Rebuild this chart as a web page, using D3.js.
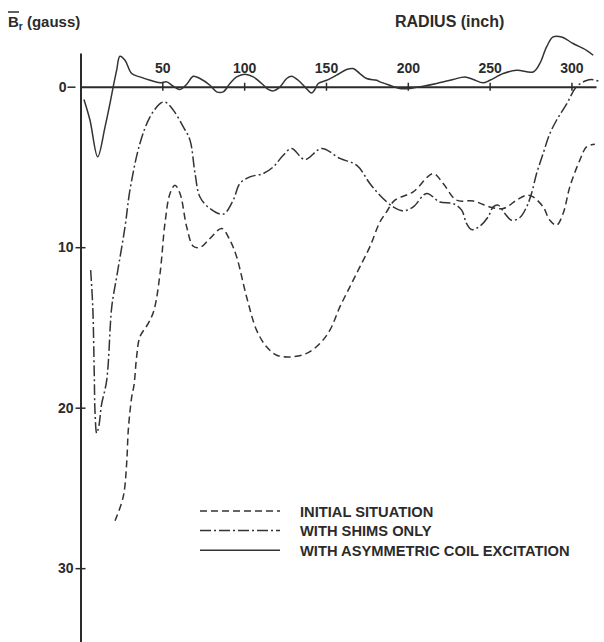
<!doctype html>
<html lang="en">
<head>
<meta charset="UTF-8">
<title>Radial field vs radius</title>
<style>
    body { margin: 0; background: #fff; }
    svg text { font-family: "Liberation Sans", Arial, sans-serif; font-weight: bold; fill: #2b2b2b; }
</style>
</head>
<body>
<svg id="chart" width="604" height="642"></svg>
<script src="https://d3js.org/d3.v7.min.js"></script>
<script>
    // radius (inch) and Br (gauss, positive = downward on the plot)
    let initialR = [21.1, 26.1, 28.2, 29.2, 31.3, 32.7, 34.3, 36.3, 41.4, 44.9, 48.6, 51.6, 54.7, 57.7, 60.8,
        64.9, 68.9, 73, 79.1, 86.3, 91.3, 95.4, 101.5, 107.6, 113.7, 119.9, 128, 138.2, 146.3, 152.4, 158.5,
        164.6, 170.7, 176.8, 182.9, 187, 192.1, 203.3, 215.5, 221.6, 229.8, 240, 250.1, 258.3, 266.5, 272.6,
        276.6, 282.7, 286.8, 290.9, 294.9, 299, 305.1, 309.2, 314.3];
    let initialB = [27.05, 25.56, 23.48, 21.4, 19.33, 18.6, 16.83, 15.59, 14.75, 13.93, 11.64, 8.52, 6.65, 6.14, 6.65,
        8.74, 9.94, 10.02, 9.46, 8.83, 9.56, 10.6, 13.1, 15.17, 16.21, 16.73, 16.84, 16.62, 16, 15.17, 13.72,
        12.47, 11.23, 9.98, 8.44, 7.8, 7.07, 6.55, 5.41, 6.03, 7.07, 7.12, 7.49, 7.59, 7.07, 6.76,
        6.87, 7.49, 8.32, 8.63, 7.9, 6.24, 4.58, 3.75, 3.58];

    let shimsR = [6.2, 7.5, 8.4, 8.9, 9.9, 11.3, 12.8, 16, 19.1, 22.1, 27.2, 30.2, 36.3, 42.5, 48.6, 51.6, 56.7,
        62.8, 66.9, 70, 73, 79.1, 87.2, 93.3, 97.4, 103.5, 111.7, 117.8, 123.9, 129, 137.1, 147.3, 158.5,
        168.7, 176.8, 182.9, 191.1, 197.2, 203.3, 211.5, 219.5, 227.7, 232.9, 235.9, 239, 244, 249.1, 252.2,
        255.2, 259.3, 263.4, 268.5, 272.6, 275.6, 278.7, 282.7, 286.8, 290.9, 297, 303.1, 308.8, 313.1, 317.4];
    let shimsB = [11.43, 13.72, 17.87, 20.34, 21.59, 21.1, 19.84, 18.3, 13.72, 11.85, 8.74, 6.45, 3.54, 1.88, 1.05, 0.95, 1.46,
        2.5, 3.33, 5.41, 6.87, 7.59, 7.94, 7.07, 6.03, 5.62, 5.41, 5, 4.27, 3.85, 4.54, 3.85, 4.47,
        4.89, 6.03, 6.76, 7.49, 7.74, 7.49, 6.65, 7.18, 7.28, 7.69, 8.52, 8.9, 8.69, 8.11, 7.49,
        7.38, 7.9, 8.32, 8.15, 7.49, 6.65, 5.41, 4.16, 2.92, 2.09, 1.09, 0, -0.37, -0.44, -0.31];

    let asymR = [2.1, 5.8, 10.5, 15, 18, 20, 22.1, 24.1, 27.2, 31.3, 36.3, 42.5, 48.6, 52.7, 56.7, 60.8, 64.9,
        68.9, 73, 79.1, 83.2, 87.2, 91.3, 95.4, 100.5, 105.6, 110.7, 114.7, 117.8, 121.9, 126, 129, 133,
        137.1, 141.2, 143.2, 145.3, 150.4, 156.5, 162.6, 166.6, 170.7, 174.8, 180.9, 183, 189, 195.1, 201.3,
        209.4, 217.6, 227.7, 234.9, 240, 246, 250.1, 258.3, 266.5, 276.6, 280.7, 284.8, 288.8, 294, 301,
        309.2, 313.3];
    let asymB = [0.8, 2.09, 4.37, 2.5, 1.05, 0, -1.03, -1.9, -1.65, -0.82, -0.61, -0.4, -0.24, -0.3, -0.03, 0.17, -0.15,
        -0.65, -0.51, -0.09, 0.32, 0.32, -0.2, -0.61, -0.78, -0.61, -0.2, 0.17, 0.26, 0.01, -0.51, -0.65, -0.4,
        0.01, 0.39, 0.17, -0.2, -0.4, -0.72, -1.07, -1.13, -0.82, -0.51, -0.4, -0.3, -0.09, 0.11, 0.11,
        -0.03, -0.2, -0.45, -0.61, -0.45, -0.24, -0.4, -0.82, -1.03, -0.92, -1.45, -2.48, -3.1, -3.1, -2.69,
        -2.27, -1.96];

    let seriesNames = ["INITIAL SITUATION", "WITH SHIMS ONLY", "WITH ASYMMETRIC COIL EXCITATION"];
    let xTicks = [50, 100, 150, 200, 250, 300];
    let yTicks = [0, 10, 20, 30];

    let series = [
        {name: seriesNames[0], r: initialR, b: initialB, dash: "7,4"},
        {name: seriesNames[1], r: shimsR, b: shimsB, dash: "11,3,2,3"},
        {name: seriesNames[2], r: asymR, b: asymB, dash: null}
    ];

    let svg = d3.select("#chart");
    let ink = "#2b2b2b";

    let x = d3.scaleLinear().domain([0, 315]).range([80.5, 596]);
    let y = d3.scaleLinear().domain([-2.1, 34.6]).range([53, 642]);

    // y axis
    let gy = svg.append("g")
        .attr("transform", "translate(" + x(0) + ",0)")
        .call(d3.axisLeft(y).tickValues(yTicks).tickSizeInner(5).tickSizeOuter(0).tickPadding(2)
            .tickFormat(d3.format("d")));
    gy.select(".domain").attr("stroke", ink).attr("stroke-width", 2);
    gy.selectAll(".tick line").attr("stroke", ink).attr("stroke-width", 1.5)
        .attr("x1", d => d === 0 ? -13 : 5).attr("x2", -5);
    gy.selectAll(".tick text").attr("font-size", 14)
        .attr("x", d => d === 0 ? -14 : -7);

    // x axis along B = 0
    let gx = svg.append("g")
        .attr("transform", "translate(0," + y(0) + ")")
        .call(d3.axisTop(x).tickValues(xTicks).tickSizeInner(4).tickSizeOuter(0).tickPadding(10));
    gx.select(".domain").attr("stroke", ink).attr("stroke-width", 2);
    gx.selectAll(".tick line").attr("stroke", ink).attr("stroke-width", 1.5).attr("y1", 4);
    gx.selectAll(".tick text").attr("font-size", 14);

    // curves
    let line = d3.line()
        .x(d => x(d[0]))
        .y(d => y(d[1]))
        .curve(d3.curveCatmullRom.alpha(0.5));

    svg.append("g")
        .selectAll("path")
        .data(series)
        .enter().append("path")
        .attr("d", s => line(s.r.map((r, i) => [r, s.b[i]])))
        .attr("fill", "none")
        .attr("stroke", "#333")
        .attr("stroke-width", 1.5)
        .attr("stroke-dasharray", s => s.dash);

    // titles
    let title = svg.append("text").attr("x", 8).attr("y", 27).attr("font-size", 15);
    title.append("tspan").text("B");
    title.append("tspan").attr("font-size", 10).attr("dy", 3).text("r");
    title.append("tspan").attr("dy", -3).text(" (gauss)");
    svg.append("line").attr("x1", 8).attr("x2", 19).attr("y1", 12).attr("y2", 12)
        .attr("stroke", ink).attr("stroke-width", 1.5);

    svg.append("text").attr("x", 395).attr("y", 27).attr("font-size", 16).text("RADIUS (inch)");

    // legend
    let legend = svg.append("g")
        .selectAll("g")
        .data(series)
        .enter().append("g")
        .attr("transform", (d, i) => "translate(200," + (511 + i * 19.6) + ")");
    legend.append("line")
        .attr("x1", 0).attr("x2", 80)
        .attr("stroke", "#333").attr("stroke-width", 1.5)
        .attr("stroke-dasharray", d => d.dash);
    legend.append("text")
        .attr("x", 100).attr("y", 5.5)
        .attr("font-size", 14.7)
        .text(d => d.name);
</script>
</body>
</html>
